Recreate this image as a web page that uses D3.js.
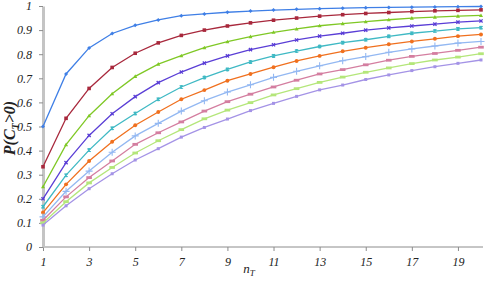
<!DOCTYPE html>
<html>
<head>
<meta charset="utf-8">
<script src="https://cdn.jsdelivr.net/npm/d3@7"></script>
<style>
  body { margin: 0; background: #fff; }
  text { font-family: "Liberation Serif", "DejaVu Serif", serif; font-style: italic; }
</style>
</head>
<body>
<svg id="chart" width="490" height="281"></svg>
<script>
const nT = d3.range(1, 21);

const s1 = [0.5, 0.718, 0.826, 0.886, 0.92, 0.942, 0.96, 0.967, 0.974, 0.979, 0.983, 0.986, 0.989, 0.991, 0.993, 0.994, 0.995, 0.996, 0.997, 0.998];
const s2 = [0.333, 0.534, 0.658, 0.745, 0.804, 0.847, 0.878, 0.9, 0.917, 0.93, 0.941, 0.95, 0.958, 0.964, 0.969, 0.973, 0.977, 0.98, 0.982, 0.984];
const s3 = [0.25, 0.425, 0.545, 0.636, 0.708, 0.759, 0.794, 0.827, 0.852, 0.873, 0.891, 0.905, 0.918, 0.927, 0.935, 0.943, 0.95, 0.954, 0.958, 0.961];
const s4 = [0.2, 0.35, 0.463, 0.553, 0.624, 0.682, 0.726, 0.763, 0.793, 0.819, 0.839, 0.859, 0.875, 0.887, 0.9, 0.909, 0.917, 0.925, 0.933, 0.938];
const s5 = [0.167, 0.298, 0.402, 0.493, 0.554, 0.613, 0.664, 0.703, 0.737, 0.768, 0.793, 0.813, 0.832, 0.848, 0.86, 0.874, 0.887, 0.896, 0.905, 0.91];
const s6 = [0.143, 0.26, 0.357, 0.437, 0.505, 0.56, 0.613, 0.651, 0.69, 0.718, 0.746, 0.772, 0.793, 0.812, 0.827, 0.841, 0.853, 0.864, 0.875, 0.882];
const s7 = [0.125, 0.231, 0.315, 0.393, 0.461, 0.513, 0.564, 0.607, 0.643, 0.673, 0.704, 0.729, 0.752, 0.773, 0.79, 0.808, 0.822, 0.834, 0.846, 0.853];
const s8 = [0.111, 0.208, 0.288, 0.357, 0.426, 0.474, 0.519, 0.564, 0.603, 0.634, 0.664, 0.692, 0.718, 0.736, 0.756, 0.775, 0.791, 0.803, 0.816, 0.829];
const s9 = [0.1, 0.188, 0.266, 0.33, 0.39, 0.441, 0.487, 0.532, 0.568, 0.599, 0.631, 0.657, 0.683, 0.705, 0.725, 0.743, 0.761, 0.776, 0.788, 0.802];
const s10 = [0.091, 0.171, 0.242, 0.304, 0.361, 0.408, 0.456, 0.496, 0.531, 0.566, 0.596, 0.625, 0.652, 0.672, 0.695, 0.714, 0.732, 0.748, 0.762, 0.776];

const allSeries = [s1, s2, s3, s4, s5, s6, s7, s8, s9, s10];
const colors = ["#3f7fe6", "#a8283c", "#7fc825", "#5a3ed6", "#3fb9c4", "#f0701e", "#93b8f2", "#d47ea0", "#b4e67a", "#a493e6"];
const markers = ["diamond", "square", "triangle", "x", "star", "circle", "plus", "dash", "dash", "small"];

const yTicks = [0, 0.1, 0.2, 0.3, 0.4, 0.5, 0.6, 0.7, 0.8, 0.9, 1];
const yTickLabels = ["0", "0.1", "0.2", "0.3", "0.4", "0.5", "0.6", "0.7", "0.8", "0.9", "1"];
const xTicks = [1, 3, 5, 7, 9, 11, 13, 15, 17, 19];

const svg = d3.select("#chart");
const x = d3.scaleLinear().domain([1, 20]).range([43, 481]);
const y = d3.scaleLinear().domain([0, 1]).range([247, 6]);

// x axis
const xAxis = svg.append("g")
  .attr("transform", `translate(0,${y(0)})`)
  .call(d3.axisBottom(x).tickValues(xTicks).tickSize(4).tickSizeOuter(0).tickPadding(6));
xAxis.select(".domain").attr("stroke", "#8c8c8c").attr("d", `M${x(1)},0H483`);
xAxis.selectAll(".tick line").attr("stroke", "#8c8c8c");
xAxis.selectAll(".tick text").attr("font-size", 12).attr("fill", "#222")
  .attr("font-family", "Liberation Serif").attr("font-style", "italic");

// y axis
const yAxis = svg.append("g")
  .attr("transform", `translate(${x(1)},0)`)
  .call(d3.axisLeft(y).tickValues(yTicks).tickFormat((d, i) => yTickLabels[i]).tickSize(4).tickSizeOuter(0).tickPadding(7));
yAxis.select(".domain").attr("stroke", "#c4c4c4").attr("stroke-width", 3);
yAxis.selectAll(".tick line").attr("stroke", "#8c8c8c");
yAxis.selectAll(".tick text").attr("font-size", 12).attr("fill", "#222")
  .attr("font-family", "Liberation Serif").attr("font-style", "italic");

// axis titles
const xt = svg.append("text").attr("x", 249).attr("y", 273).attr("text-anchor", "middle")
  .attr("font-size", 13).attr("fill", "#222");
xt.append("tspan").text("n");
xt.append("tspan").attr("font-size", 9).attr("dy", 3).text("T");

const yt = svg.append("text").attr("transform", "translate(15,128) rotate(-90)")
  .attr("text-anchor", "middle").attr("font-size", 16).attr("font-weight", "bold").attr("fill", "#222");
yt.append("tspan").text("P(C");
yt.append("tspan").attr("font-size", 10).attr("dy", 4).text("T");
yt.append("tspan").attr("dy", -4).text(">0)");

// lines
const line = d3.line().x((d, i) => x(nT[i])).y(d => y(d));
allSeries.forEach((s, k) => {
  const g = svg.append("g");
  g.append("path").datum(s).attr("d", line).attr("fill", "none")
    .attr("stroke", colors[k]).attr("stroke-width", 1.3);
  const m = g.selectAll("path.m").data(s).join("path").attr("class", "m")
    .attr("transform", (d, i) => `translate(${x(nT[i])},${y(d)})`);
  const c = colors[k];
  switch (markers[k]) {
    case "diamond": m.attr("d", "M0,-2L2,0L0,2L-2,0Z").attr("fill", c); break;
    case "square": m.attr("d", "M-1.8,-1.8H1.8V1.8H-1.8Z").attr("fill", c); break;
    case "triangle": m.attr("d", "M0,-2L2,1.6L-2,1.6Z").attr("fill", c); break;
    case "x": m.attr("d", "M-1.6,-1.6L1.6,1.6M1.6,-1.6L-1.6,1.6").attr("stroke", c).attr("stroke-width", 1.3); break;
    case "star": m.attr("d", "M-1.6,-1.6L1.6,1.6M1.6,-1.6L-1.6,1.6M0,-2V2").attr("stroke", c).attr("stroke-width", 1.2); break;
    case "circle": m.attr("d", d3.symbol(d3.symbolCircle, 12)).attr("fill", c); break;
    case "plus": m.attr("d", "M-3.5,0H3.5M0,-3.5V3.5").attr("stroke", c).attr("stroke-width", 1.1); break;
    case "dash": m.attr("d", "M-2.8,-1.4H2.8V1.4H-2.8Z").attr("fill", c); break;
    default: m.attr("d", "M-1.5,-1.5H1.5V1.5H-1.5Z").attr("fill", c);
  }
});
</script>
</body>
</html>
